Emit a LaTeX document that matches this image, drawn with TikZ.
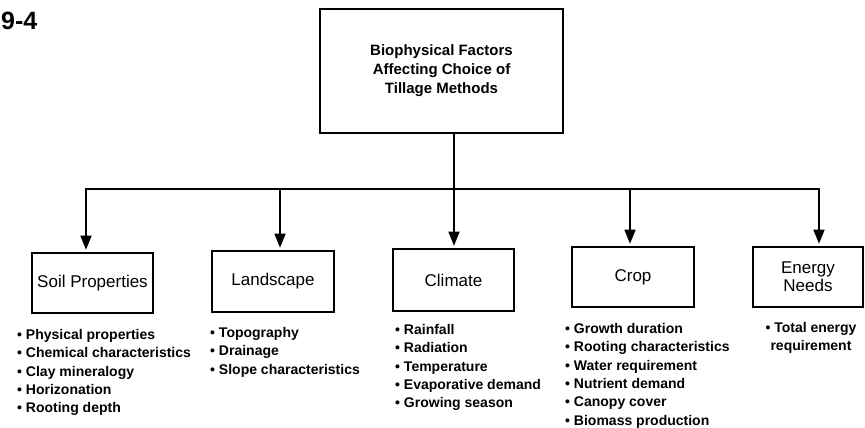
\documentclass[tikz,border=0pt]{standalone}
\usepackage{fontspec}
\setmainfont{Liberation Sans}
\usetikzlibrary{arrows.meta}

\newcommand\headfont{\fontsize{15}{19}\selectfont\bfseries}
\newcommand\boxlabelfont{\fontsize{17}{18}\selectfont}
\newcommand\itemsfont{\fontsize{14}{18.4}\selectfont\bfseries}

\begin{document}
\begin{tikzpicture}[
    x=1pt, y=-1pt,
    box/.style={draw, line width=1.6pt, inner sep=0pt, align=center, font=\boxlabelfont},
    wire/.style={line width=1.6pt},
    arr/.style={wire, -{Triangle[width=11pt,length=14pt]}, shorten >=2.5pt},
    items/.style={inner sep=0pt, align=left, font=\itemsfont, anchor=north west}
  ]
  \useasboundingbox (0,0) rectangle (865,428);

  % figure number
  \node[font=\fontsize{25}{30}\selectfont\bfseries, anchor=north west, inner sep=0pt] (fignum) at (1,12) {9-4};

  % root box
  \node[box, font=\headfont, minimum width=243pt, minimum height=124pt] (root) at (441.5,71)
    {Biophysical Factors\\Affecting Choice of\\Tillage Methods};

  % factor boxes
  \node[box, minimum width=121pt, minimum height=60pt] (soil)   at (92.5,283)  {Soil Properties};
  \node[box, minimum width=122pt, minimum height=61pt] (land)   at (273,281.5) {Landscape};
  \node[box, minimum width=121pt, minimum height=62pt] (clim)   at (453.5,280) {Climate};
  \node[box, minimum width=122pt, minimum height=60pt] (crop)   at (633,277)   {Crop};
  \node[box, minimum width=110pt, minimum height=60pt] (energy) at (808,277)   {Energy\\Needs};

  % distribution bus
  \coordinate (j1) at (86,189);
  \coordinate (j2) at (280,189);
  \coordinate (j3) at (454,189);
  \coordinate (j4) at (630,189);
  \coordinate (j5) at (819,189);

  \draw[wire] (j3 |- root.south) -- (j3);
  \draw[wire, line cap=rect] (j1) -- (j5);
  \draw[arr] (j1) -- (j1 |- soil.north);
  \draw[arr] (j2) -- (j2 |- land.north);
  \draw[arr] (j3) -- (j3 |- clim.north);
  \draw[arr] (j4) -- (j4 |- crop.north);
  \draw[arr] (j5) -- (j5 |- energy.north);

  % factor lists
  \node[items] (soilL) at (17,329)
    {\textbullet\ Physical properties\\
     \textbullet\ Chemical characteristics\\
     \textbullet\ Clay mineralogy\\
     \textbullet\ Horizonation\\
     \textbullet\ Rooting depth};
  \node[items] (landL) at (210,327)
    {\textbullet\ Topography\\
     \textbullet\ Drainage\\
     \textbullet\ Slope characteristics};
  \node[items] (climL) at (395,324)
    {\textbullet\ Rainfall\\
     \textbullet\ Radiation\\
     \textbullet\ Temperature\\
     \textbullet\ Evaporative demand\\
     \textbullet\ Growing season};
  \node[items] (cropL) at (565,323)
    {\textbullet\ Growth duration\\
     \textbullet\ Rooting characteristics\\
     \textbullet\ Water requirement\\
     \textbullet\ Nutrient demand\\
     \textbullet\ Canopy cover\\
     \textbullet\ Biomass production};
  \node[items, align=center, anchor=north] (energyL) at (811,322)
    {\textbullet\ Total energy\\requirement};
\end{tikzpicture}
\end{document}
